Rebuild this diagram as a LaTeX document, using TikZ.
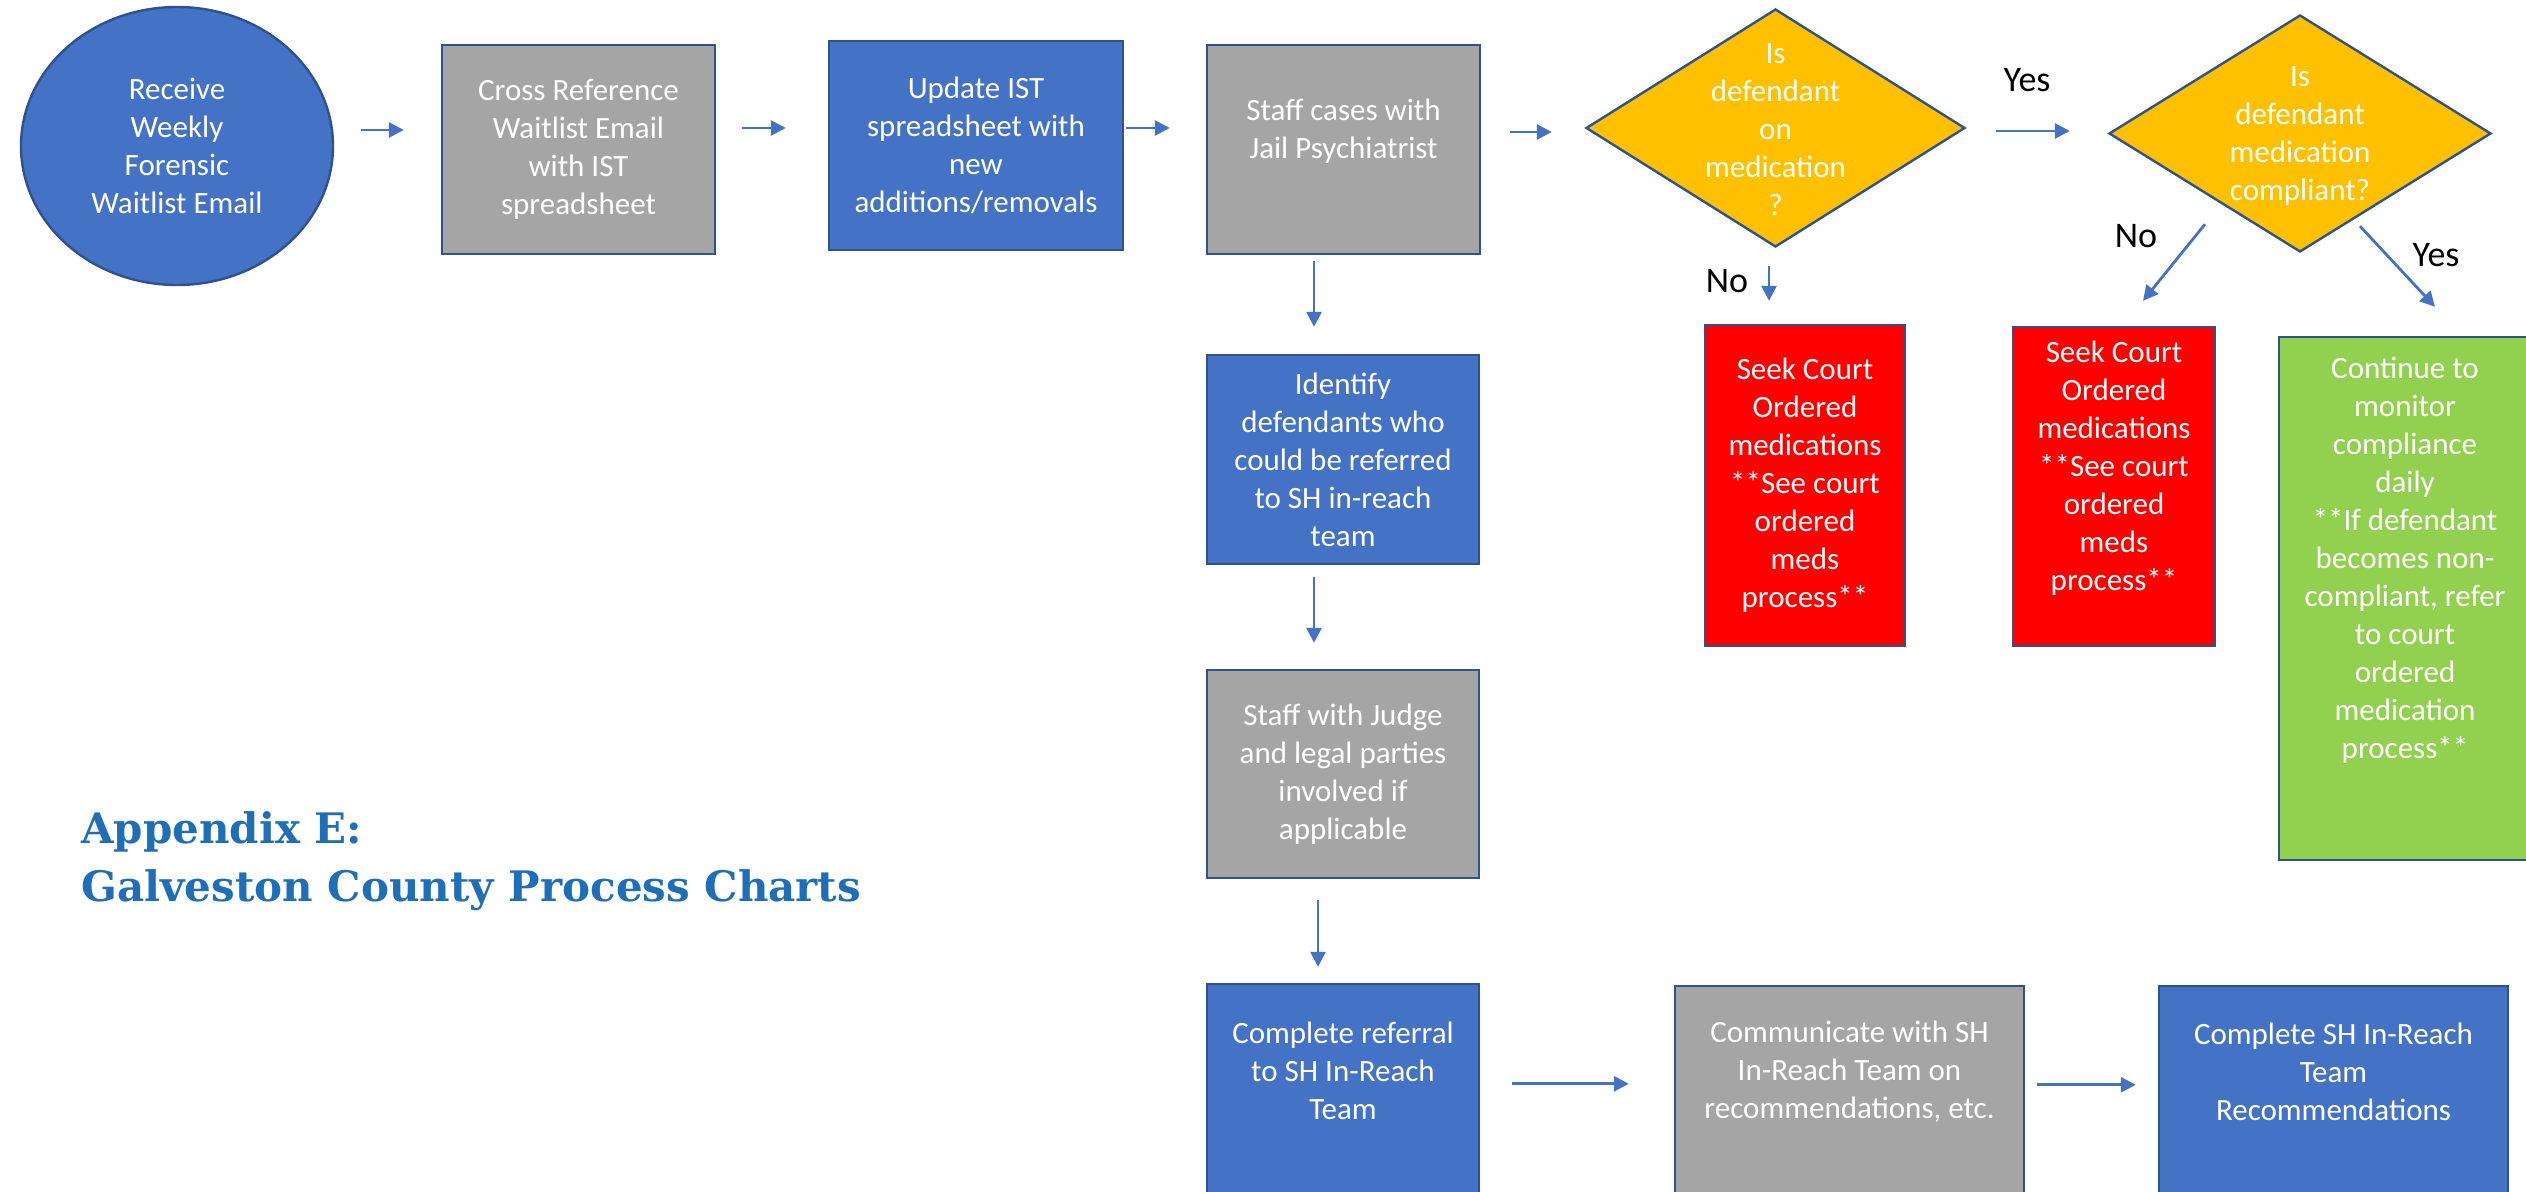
\documentclass[tikz,border=0pt]{standalone}
\usepackage{fontspec}
\setmainfont{Carlito}
\newfontfamily\ttlfont{DejaVu Serif}
\usetikzlibrary{shapes.geometric,arrows.meta}
\definecolor{myblue}{HTML}{4472C4}
\definecolor{bord}{HTML}{2F528F}
\definecolor{mygray}{HTML}{A5A5A5}
\definecolor{myyellow}{HTML}{FFC000}
\definecolor{myred}{HTML}{FF0000}
\definecolor{mygreen}{HTML}{92D050}
\definecolor{ttlblue}{HTML}{1E6FB8}
\newcommand\myfnt{\fontsize{15.5}{19}\selectfont}
\tikzset{
  base/.style={draw=bord, line width=1.2pt, inner sep=0pt, text=white, align=center, font=\myfnt},
  bluebox/.style={base, rectangle, fill=myblue},
  graybox/.style={base, rectangle, fill=mygray},
  redbox/.style={base, rectangle, fill=myred},
  greenbox/.style={base, rectangle, fill=mygreen},
  ellbox/.style={base, ellipse, fill=myblue},
  decbox/.style={base, diamond, fill=myyellow},
  txt/.style={inner sep=0pt, text=white, align=center, font=\myfnt},
  lab/.style={inner sep=0pt, text=black, font=\fontsize{18}{22}\selectfont},
  arr/.style={draw=myblue, line width=1.4pt, -{Triangle[length=7.5pt,width=7.5pt]}},
  ttl/.style={inner sep=0pt, text=ttlblue, anchor=base west, font=\ttlfont\bfseries\fontsize{21}{29}\selectfont}
}
\begin{document}
\begin{tikzpicture}[x=0.5pt,y=-0.5pt]
\useasboundingbox (0,0) rectangle (2526,1192);
\clip (0,0) rectangle (2526,1192);
\fill[white] (0,0) rectangle (2526,1192);

% top row
\node[ellbox, minimum width=156pt, minimum height=139pt] (ell) at (177,146) {Receive\\Weekly\\Forensic\\Waitlist Email};
\node[graybox, minimum width=136.5pt, minimum height=104.5pt] (b2) at (578.5,149.5) {Cross Reference\\Waitlist Email\\with IST\\spreadsheet};
\node[bluebox, minimum width=147pt, minimum height=104.5pt] (b3) at (976,145.5) {Update IST\\spreadsheet with\\new\\additions/removals};
\node[graybox, minimum width=136.5pt, minimum height=104.5pt] (b4) at (1343.5,149.5) {};
\node[txt] (b4t) at (1343.5,131) {Staff cases with\\Jail Psychiatrist};

\node[decbox, minimum width=189.5pt, minimum height=119pt] (d1) at (1775.5,128) {};
\node[txt] (d1t) at (1775.5,130) {Is\\defendant\\on\\medication\\?};
\node[decbox, minimum width=191pt, minimum height=118.5pt] (d2) at (2300,133.5) {};
\node[txt] (d2t) at (2300,136) {Is\\defendant\\medication\\compliant?};

% outcomes
\node[redbox, minimum width=100pt, minimum height=160.5pt] (r1) at (1805,485.5) {Seek Court\\Ordered\\medications\\**See court\\ordered\\meds\\process**};
\node[redbox, minimum width=101pt, minimum height=159.5pt] (r2) at (2114,486.5) {};
\node[txt] (r2t) at (2114,468) {Seek Court\\Ordered\\medications\\**See court\\ordered\\meds\\process**};
\node[greenbox, minimum width=126pt, minimum height=261.5pt] (g) at (2405,598.5) {};
\node[txt] (gt) at (2405,560) {Continue to\\monitor\\compliance\\daily\\**If defendant\\becomes non-\\compliant, refer\\to court\\ordered\\medication\\process**};

% vertical column
\node[bluebox, minimum width=136pt, minimum height=104.5pt] (id) at (1343,459.5) {Identify\\defendants who\\could be referred\\to SH in-reach\\team};
\node[graybox, minimum width=136pt, minimum height=104pt] (jd) at (1343,774) {Staff with Judge\\and legal parties\\involved if\\applicable};
\node[bluebox, minimum width=136pt, minimum height=138pt] (ref) at (1343,1122) {};
\node[txt] (reft) at (1343,1071) {Complete referral\\to SH In-Reach\\Team};
\node[graybox, minimum width=174.5pt, minimum height=137pt] (cm) at (1849.5,1123) {};
\node[txt] (cmt) at (1849.5,1072) {Communicate with SH\\In-Reach Team on\\recommendations, etc.};
\node[bluebox, minimum width=174.5pt, minimum height=137pt] (sh) at (2333.5,1123) {};
\node[txt] (sht) at (2333.5,1072) {Complete SH In-Reach\\Team\\Recommendations};

% labels
\node[lab] (yes1) at (2027,80) {Yes};
\node[lab] (no1) at (1727,281) {No};
\node[lab] (no2) at (2136,236) {No};
\node[lab] (yes2) at (2436,255) {Yes};

% title
\node[ttl] (t1) at (81,843) {Appendix E:};
\node[ttl] (t2) at (81,901) {Galveston County Process Charts};

% connectors
\draw[arr] ([xshift=13.5pt,yshift=8pt]ell.east) -- ([xshift=-18.5pt,yshift=9.75pt]b2.west);
\draw[arr] ([xshift=13pt,yshift=10.75pt]b2.east) -- ([xshift=-21pt,yshift=8.75pt]b3.west);
\draw[arr] ([xshift=1pt,yshift=8.75pt]b3.east) -- ([xshift=-18pt,yshift=10.75pt]b4.west);
\draw[arr] ([xshift=14.5pt,yshift=8.75pt]b4.east) -- ([xshift=-16.5pt,yshift=-2pt]d1.west);
\draw[arr] ([xshift=15pt,yshift=-1.5pt]d1.east) -- ([xshift=-19pt,yshift=1.25pt]d2.west);
\draw[arr] ([xshift=-3.25pt,yshift=-9pt]d1.south) -- ([xshift=-18pt,yshift=11.5pt]r1.north);
\draw[arr] ([xshift=-47.5pt,yshift=14.5pt]d2.south) -- ([xshift=14.5pt,yshift=12.5pt]r2.north);
\draw[arr] ([xshift=30pt,yshift=13.5pt]d2.south) -- ([xshift=15pt,yshift=14.5pt]g.north);
\draw[arr] ([xshift=-14.75pt,yshift=-3pt]b4.south) -- ([xshift=-14.5pt,yshift=13.5pt]id.north);
\draw[arr] ([xshift=-14.5pt,yshift=-6pt]id.south) -- ([xshift=-14.5pt,yshift=13pt]jd.north);
\draw[arr] ([xshift=-12.5pt,yshift=-10.5pt]jd.south) -- ([xshift=-12.5pt,yshift=8pt]ref.north);
\draw[arr] ([xshift=16pt,yshift=-50.5pt]ref.north east) -- ([xshift=-22.5pt,yshift=-49.5pt]cm.north west);
\draw[arr] ([xshift=6pt,yshift=-50pt]cm.north east) -- ([xshift=-11pt,yshift=-50pt]sh.north west);
\end{tikzpicture}
\end{document}
